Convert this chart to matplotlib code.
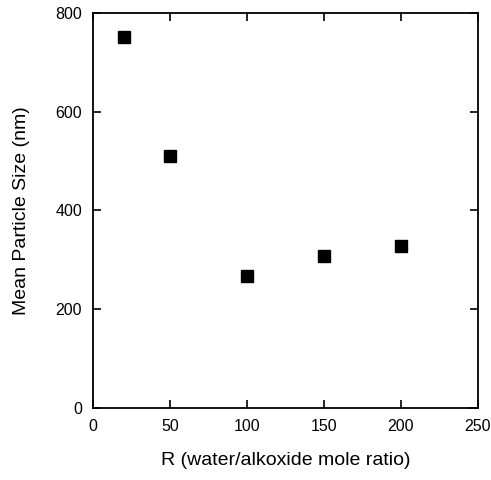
import matplotlib.pyplot as plt

plt.rcParams["font.family"] = ["Liberation Sans", "DejaVu Sans"]

# Water/alkoxide ratio vs mean particle size
ratio = [20, 50, 100, 150, 200]
size_nm = [750, 510, 268, 308, 328]

x_ticks = [0, 50, 100, 150, 200, 250]
y_ticks = [0, 200, 400, 600, 800]

fig = plt.figure(figsize=(4.91, 4.80), dpi=100)
ax = fig.add_axes([0.1894, 0.15, 0.784, 0.8235])

ax.plot(ratio, size_nm, linestyle="none", marker="s", markersize=8.5,
        color="black")

ax.set_xlim(0, 250)
ax.set_ylim(0, 800)
ax.set_xticks(x_ticks)
ax.set_yticks(y_ticks)

ax.tick_params(direction="in", length=6, width=1.2, labelsize=11.5,
               top=True, right=True, pad=8)
for spine in ax.spines.values():
    spine.set_linewidth(1.3)

ax.set_xlabel("R (water/alkoxide mole ratio)", fontsize=14, labelpad=13)
ax.set_ylabel("Mean Particle Size (nm)", fontsize=14, labelpad=18)

fig.savefig("out.png", dpi=100)
